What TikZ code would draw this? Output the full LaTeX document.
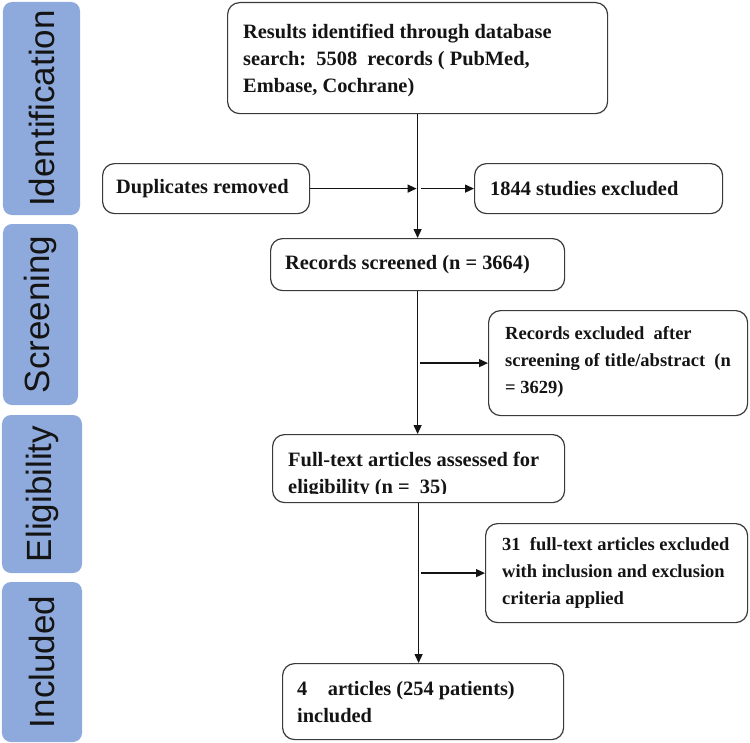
\documentclass[tikz,border=0pt]{standalone}
\usepackage{fontspec}
\setmainfont{Liberation Serif}
\newfontfamily\sidefont{Liberation Sans}
\usetikzlibrary{arrows.meta,calc}
\definecolor{barblue}{HTML}{8EA9DB}
\definecolor{edgecol}{HTML}{3A3A3A}
\definecolor{inkcol}{HTML}{141414}
\begin{document}
\begin{tikzpicture}[x=1bp,y=-1bp,
  bar/.style={fill=barblue, draw=none, rounded corners=9bp, rotate=90,
    font=\sidefont\fontsize{35bp}{35bp}\selectfont, text=inkcol, inner sep=0pt},
  box/.style={draw=edgecol, line width=1.2bp, rounded corners=12bp, fill=white,
    anchor=north west, inner sep=0pt},
  txt/.style={font=\fontsize{20.4bp}{27bp}\selectfont\bfseries, text=inkcol,
    align=left, anchor=west, inner sep=0pt},
  txtsmall/.style={txt, font=\fontsize{18.5bp}{27bp}\selectfont\bfseries},
  arr/.style={draw=inkcol, line width=1.3bp, -{Triangle[length=9bp,width=8bp]}}
]
\useasboundingbox (0,0) rectangle (750,743);

% side bars
\node[bar, minimum width=213bp, minimum height=77bp] (barI) at (41.5,108.5) {Identification};
\node[bar, minimum width=181bp, minimum height=75bp] (barS) at (40.5,314.5) {Screening};
\node[bar, minimum width=158bp, minimum height=80bp] (barE) at (42,494) {Eligibility};
\node[bar, minimum width=160bp, minimum height=80bp] (barN) at (42,662) {Included};

% boxes
\node[box, minimum width=380bp, minimum height=111bp] (top) at (227,2) {};
\node[box, minimum width=207bp, minimum height=50bp] (dup) at (102,163) {};
\node[box, minimum width=248bp, minimum height=50bp] (ex1844) at (474,163) {};
\node[box, minimum width=294bp, minimum height=52bp] (scr) at (270,238) {};
\node[box, minimum width=259bp, minimum height=105bp] (excl) at (488,310) {};
\node[box, minimum width=292bp, minimum height=68bp] (full) at (272,434) {};
\node[box, minimum width=262bp, minimum height=99bp] (ex31) at (485,523) {};
\node[box, minimum width=281bp, minimum height=76bp] (art) at (282,663) {};

% texts
\node[txt] (topT) at ($(top.west)+(16,2)$) {Results identified through database\\search:\ \ 5508\ \ records ( PubMed,\\Embase, Cochrane)};
\node[txt] (dupT) at ($(dup.west)+(14,0)$) {Duplicates removed};
\node[txt] (ex1844T) at ($(ex1844.west)+(16,0)$) {1844 studies excluded};
\node[txt] (scrT) at ($(scr.west)+(15,0)$) {Records screened (n = 3664)};
\node[txtsmall] (exclT) at ($(excl.west)+(17,-1)$) {Records excluded\ \ after\\screening of title/abstract\ \ (n\\= 3629)};
\begin{scope}
  \clip (272,434) rectangle (565,493);
  \node[txt] (fullT) at ($(full.west)+(16,6)$) {Full-text articles assessed for\\eligibility (n =\ \ 35)};
\end{scope}
\node[txtsmall] (ex31T) at ($(ex31.west)+(17,0)$) {31\ \ full-text articles excluded\\with inclusion and exclusion\\criteria applied};
\node[txt] (artT) at ($(art.west)+(15,0)$) {4\ \ \ \ articles (254 patients)\\included};

% connectors
\coordinate (j1) at (top.south |- dup.east);
\draw[arr] (top.south) -- (top.south |- scr.north);
\draw[arr] (dup.east) -- ($(j1)+(-1,0)$);
\draw[arr] ($(j1)+(3,0)$) -- (ex1844.west);
\draw[arr] (scr.south) -- (scr.south |- full.north);
\draw[arr] ($(scr.south |- excl.west)+(2,0)$) -- (excl.west);
\draw[arr] (full.south) -- (full.south |- art.north);
\draw[arr] ($(full.south |- ex31.west)+(2,0)$) -- (ex31.west);
\end{tikzpicture}
\end{document}
